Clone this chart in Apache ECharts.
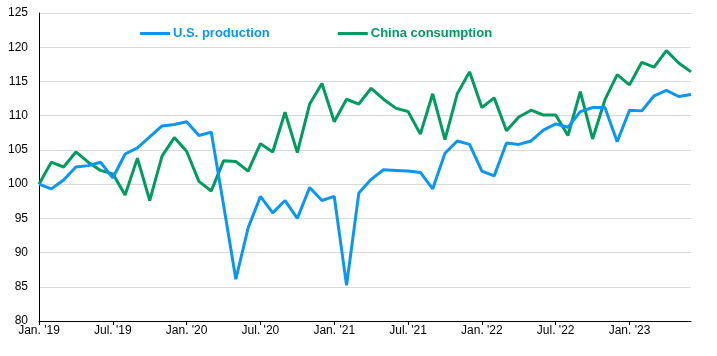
<!DOCTYPE html>
<html><head><meta charset="utf-8">
<script src="https://cdn.jsdelivr.net/npm/echarts@6/dist/echarts.min.js"></script>
<style>html,body{margin:0;padding:0;background:#fff}#c{width:717px;height:356px}</style>
</head><body><div id="c"></div>
<script>
const categories = [
 "Jan. '19","Feb. '19","Mar. '19","Apr. '19","May. '19","Jun. '19","Jul. '19","Aug. '19","Sep. '19","Oct. '19","Nov. '19","Dec. '19",
 "Jan. '20","Feb. '20","Mar. '20","Apr. '20","May. '20","Jun. '20","Jul. '20","Aug. '20","Sep. '20","Oct. '20","Nov. '20","Dec. '20",
 "Jan. '21","Feb. '21","Mar. '21","Apr. '21","May. '21","Jun. '21","Jul. '21","Aug. '21","Sep. '21","Oct. '21","Nov. '21","Dec. '21",
 "Jan. '22","Feb. '22","Mar. '22","Apr. '22","May. '22","Jun. '22","Jul. '22","Aug. '22","Sep. '22","Oct. '22","Nov. '22","Dec. '22",
 "Jan. '23","Feb. '23","Mar. '23","Apr. '23","May. '23","Jun. '23"
];
const usProduction = [
 100.0, 99.3, 100.6, 102.5, 102.7, 103.2, 100.9, 104.4, 105.3, 106.9, 108.5, 108.7,
 109.1, 107.1, 107.6, 97.0, 86.1, 93.6, 98.2, 95.8, 97.6, 95.0, 99.5, 97.6,
 98.2, 85.2, 98.7, 100.7, 102.1, 102.0, 101.9, 101.7, 99.3, 104.5, 106.3, 105.8,
 101.9, 101.2, 106.0, 105.8, 106.3, 107.9, 108.8, 108.3, 110.6, 111.2, 111.2, 106.2,
 110.8, 110.7, 112.9, 113.7, 112.8, 113.1
];
const chinaConsumption = [
 100.0, 103.2, 102.5, 104.7, 103.2, 102.0, 101.5, 98.4, 103.8, 97.6, 104.1, 106.8,
 104.8, 100.4, 99.0, 103.4, 103.3, 101.9, 105.9, 104.7, 110.5, 104.6, 111.7, 114.7,
 109.1, 112.4, 111.7, 114.0, 112.4, 111.1, 110.6, 107.3, 113.2, 106.5, 113.2, 116.4,
 111.2, 112.6, 107.8, 109.8, 110.8, 110.1, 110.1, 107.1, 113.5, 106.6, 112.3, 116.0,
 114.5, 117.8, 117.1, 119.5, 117.7, 116.4
];
const seriesNames = ["U.S. production", "China consumption"];
const yTicks = {min: 80, max: 125, interval: 5};

const BLUE = '#0A96F5', GREEN = '#009B5F';
const FONT = '"Liberation Sans", Arial, sans-serif';
const chart = echarts.init(document.getElementById('c'));
chart.setOption({
  animation: false,
  backgroundColor: '#fff',
  grid: {left: 39, right: 26, top: 13, bottom: 35, containLabel: false},
  legend: {
    top: 22, left: 135, itemGap: 68,
    icon: 'rect', itemWidth: 30, itemHeight: 3,
    textStyle: {fontFamily: FONT, fontSize: 13, fontWeight: 'bold', padding: [0,0,0,-2]},
    data: [
      {name: seriesNames[0], textStyle: {color: BLUE}},
      {name: seriesNames[1], textStyle: {color: GREEN}}
    ]
  },
  xAxis: {
    type: 'category', data: categories, boundaryGap: false,
    axisLine: {lineStyle: {color: '#000', width: 1}},
    axisTick: {show: true, interval: 5, length: 4, lineStyle: {color: '#000'}},
    axisLabel: {interval: 5, color: '#000', fontFamily: FONT, fontSize: 12, margin: 4},
    splitLine: {show: false}
  },
  yAxis: {
    type: 'value', min: yTicks.min, max: yTicks.max, interval: yTicks.interval,
    axisLine: {show: true, lineStyle: {color: '#000', width: 1}},
    axisTick: {show: false},
    axisLabel: {color: '#000', fontFamily: FONT, fontSize: 12, margin: 11},
    splitLine: {lineStyle: {color: '#d9d9d9', width: 1}}
  },
  series: [
    {name: seriesNames[0], type: 'line', data: usProduction, showSymbol: false, symbol: 'none',
     lineStyle: {color: BLUE, width: 3}, itemStyle: {color: BLUE}, z: 3},
    {name: seriesNames[1], type: 'line', data: chinaConsumption, showSymbol: false, symbol: 'none',
     lineStyle: {color: GREEN, width: 3}, itemStyle: {color: GREEN}, z: 2}
  ]
});
</script></body></html>
